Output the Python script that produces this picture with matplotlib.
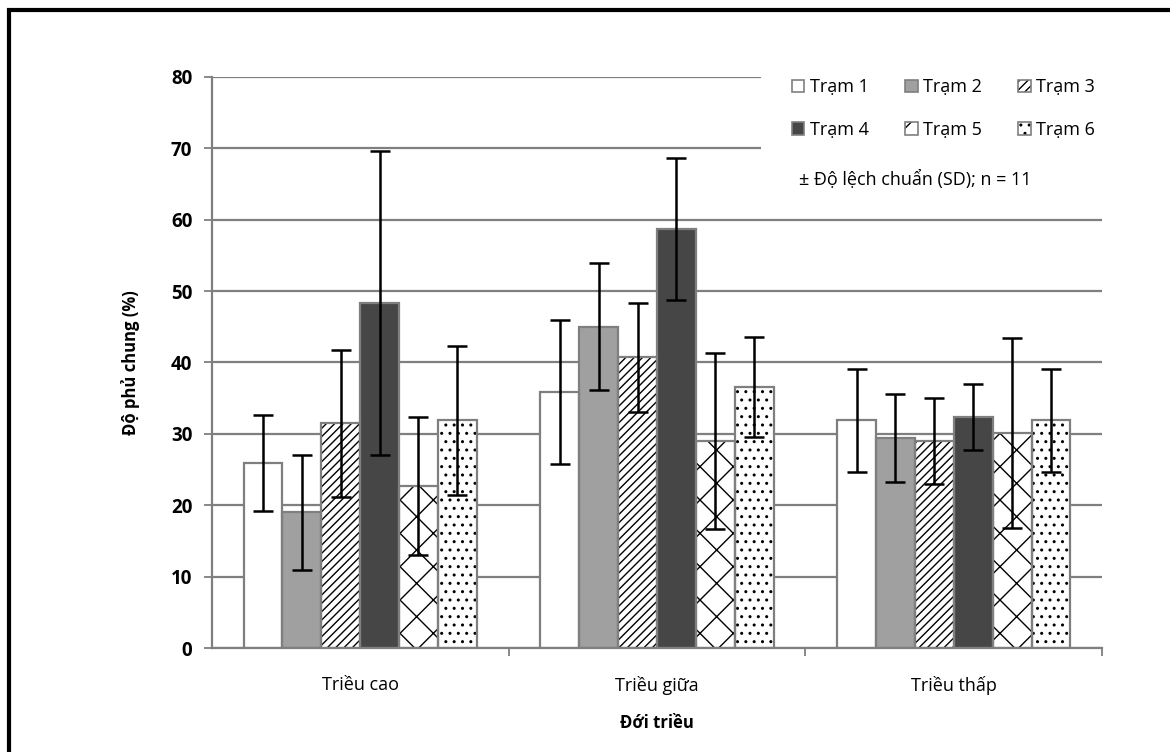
import numpy as np
import matplotlib
matplotlib.use('Agg')
import matplotlib.pyplot as plt
from matplotlib.patches import Patch, Rectangle
from matplotlib.legend_handler import HandlerTuple

plt.rcParams['font.family'] = ['Open Sans', 'DejaVu Sans']
plt.rcParams['hatch.linewidth'] = 1.0

groups = ['Triều cao', 'Triều giữa', 'Triều thấp']
stations = ['Trạm 1', 'Trạm 2', 'Trạm 3', 'Trạm 4', 'Trạm 5', 'Trạm 6']

# mean cover (%) per station, one list per tidal zone
means = {
    'Trạm 1': [25.9, 35.9, 31.9],
    'Trạm 2': [19.0, 45.0, 29.4],
    'Trạm 3': [31.5, 40.7, 29.0],
    'Trạm 4': [48.3, 58.7, 32.4],
    'Trạm 5': [22.7, 29.0, 30.1],
    'Trạm 6': [31.9, 36.6, 31.9],
}
sds = {
    'Trạm 1': [6.7, 10.1, 7.2],
    'Trạm 2': [8.1, 8.9, 6.2],
    'Trạm 3': [10.3, 7.6, 6.0],
    'Trạm 4': [21.3, 9.9, 4.6],
    'Trạm 5': [9.7, 12.3, 13.3],
    'Trạm 6': [10.4, 7.0, 7.2],
}

fills = ['white', '#a0a0a0', 'white', '#464646', 'white', 'white']
hatches = [None, None, '////', None, 'x', '..']
EDGE = '#7f7f7f'

fig = plt.figure(figsize=(11.7, 7.52), dpi=100)
ax = fig.add_axes([0.181, 0.138, 0.761, 0.76])

# outer frame
fig.patches.append(Rectangle((0.008, -0.1), 1.2, 1.087, transform=fig.transFigure,
                             fill=False, edgecolor='black', linewidth=3))

x = np.arange(len(groups))
w = 0.131
handles = []
for i, st in enumerate(stations):
    pos = x + (i - 2.5) * w
    ax.bar(pos, means[st], w, color=fills[i], hatch=hatches[i],
           edgecolor='black', linewidth=0, zorder=2)
    ax.bar(pos, means[st], w, fill=False, edgecolor=EDGE, linewidth=1.6, zorder=3)
    ax.errorbar(pos, means[st], yerr=sds[st], fmt='none', ecolor='black',
                elinewidth=1.8, capsize=7, capthick=1.8, zorder=4)
    h1 = Patch(facecolor=fills[i], hatch=hatches[i], edgecolor='black', linewidth=0)
    h2 = Patch(fill=False, edgecolor=EDGE, linewidth=1.2)
    handles.append((h1, h2))

ax.set_xlim(-0.5, 2.5)
ax.set_ylim(0, 80)
ax.set_yticks(range(0, 81, 10))
ax.set_xticks(x)
ax.set_xticklabels(groups, fontsize=13)
ax.set_xticks([0.5, 1.5, 2.5], minor=True)
ax.tick_params(axis='x', which='major', length=0, pad=20)
ax.tick_params(axis='x', which='minor', length=6, color=EDGE, width=1.3)
ax.tick_params(axis='y', length=6, color=EDGE, width=1.3, labelsize=13.5, pad=8)
for lab in ax.get_yticklabels():
    lab.set_fontweight('bold')

ax.set_axisbelow(True)
ax.grid(axis='y', color=EDGE, linewidth=1.6)
for side in ['top', 'right']:
    ax.spines[side].set_visible(False)
for side in ['left', 'bottom']:
    ax.spines[side].set_color(EDGE)
    ax.spines[side].set_linewidth(1.6)

ax.set_ylabel('Độ phủ chung (%)', fontsize=12, fontweight='bold', labelpad=22)
ax.set_xlabel('Đới triều', fontsize=12, fontweight='bold', labelpad=14)

# white area behind the legend hides the gridlines there
ax.add_patch(Rectangle((0.617, 0.78), 0.4, 0.25, transform=ax.transAxes,
                       facecolor='white', edgecolor='none', zorder=1, clip_on=False))

# legend fills column-wise, so reorder to get rows 1-2-3 / 4-5-6
order = [0, 3, 1, 4, 2, 5]
leg = ax.legend([handles[k] for k in order], [stations[k] for k in order],
                handler_map={tuple: HandlerTuple(ndivide=1, pad=0)},
                ncol=3, loc='upper right', bbox_to_anchor=(1.0, 1.01), frameon=False,
                fontsize=13, handlelength=0.7, handleheight=0.7, handletextpad=0.3,
                columnspacing=2.0, labelspacing=1.35, borderaxespad=0)
ax.text(0.79, 0.82, '± Độ lệch chuẩn (SD); n = 11', transform=ax.transAxes,
        fontsize=13, ha='center', va='center', zorder=5)

plt.savefig('out.png', dpi=100)
plt.close()
